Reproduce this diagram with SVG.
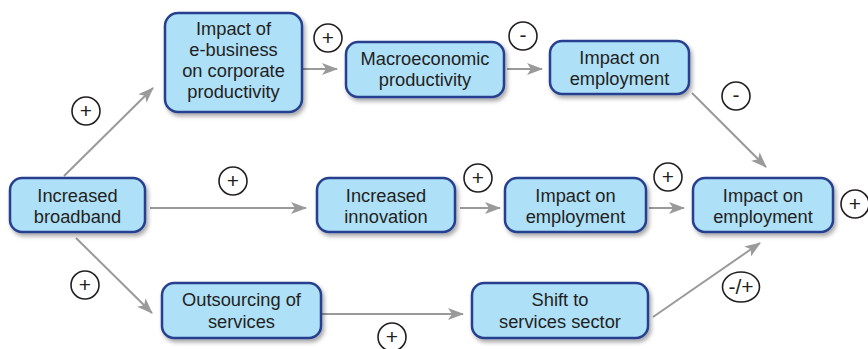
<svg xmlns="http://www.w3.org/2000/svg" width="868" height="349" viewBox="0 0 868 349">
<defs>
<filter id="sh" x="-10%" y="-10%" width="130%" height="140%">
<feDropShadow dx="2" dy="3" stdDeviation="2" flood-color="#000" flood-opacity="0.35"/>
</filter>
<marker id="ah" markerUnits="userSpaceOnUse" markerWidth="16" markerHeight="12" viewBox="0 0 16 12" refX="15" refY="6" orient="auto">
<path d="M0,0 L16,6 L0,12 L4,6 Z" fill="#9a9a9a"/>
</marker>
<style>
.n rect{fill:#aee0f8;stroke:#25408f;stroke-width:2.5;filter:url(#sh)}
.n text{font-family:"Liberation Sans",Arial,sans-serif;font-size:18.3px;fill:#231f20;text-anchor:middle}
.c line{stroke:#9a9a9a;stroke-width:2;marker-end:url(#ah)}
.l circle,.l ellipse{fill:#fff;stroke:#231f20;stroke-width:1.6}
.l text{font-family:"Liberation Sans",Arial,sans-serif;font-size:21px;fill:#231f20;text-anchor:middle}
</style>
</defs>
<rect width="868" height="349" fill="#fff"/>
<g id="connectors" class="c">
<line x1="64" y1="176" x2="153" y2="88"/>
<line x1="303" y1="69" x2="337" y2="69"/>
<line x1="507" y1="69" x2="542" y2="69"/>
<line x1="692" y1="93" x2="766" y2="167"/>
<line x1="150" y1="208" x2="306" y2="208"/>
<line x1="460" y1="208" x2="500" y2="208"/>
<line x1="649" y1="208" x2="684" y2="208"/>
<line x1="76" y1="238" x2="152" y2="313"/>
<line x1="322" y1="314" x2="463" y2="314"/>
<line x1="653" y1="317" x2="760" y2="243"/>
</g>
<g id="n-broadband" class="n"><rect x="10" y="178" width="135" height="54" rx="12"/><text x="77.5" y="202">Increased</text><text x="77.5" y="223">broadband</text></g>
<g id="n-ebusiness" class="n"><rect x="165" y="13" width="137" height="99" rx="13"/><text x="233.5" y="35">Impact of</text><text x="233.5" y="56">e-business</text><text x="233.5" y="77">on corporate</text><text x="233.5" y="98">productivity</text></g>
<g id="n-macro" class="n"><rect x="346" y="42" width="158" height="55" rx="12"/><text x="425" y="65">Macroeconomic</text><text x="425" y="86">productivity</text></g>
<g id="n-emp-top" class="n"><rect x="550" y="41" width="139" height="53" rx="12"/><text x="619.5" y="64">Impact on</text><text x="619.5" y="85">employment</text></g>
<g id="n-innovation" class="n"><rect x="317" y="178" width="138" height="54" rx="12"/><text x="386" y="202">Increased</text><text x="386" y="223">innovation</text></g>
<g id="n-emp-mid" class="n"><rect x="505" y="178" width="141" height="54" rx="12"/><text x="575.5" y="202">Impact on</text><text x="575.5" y="223">employment</text></g>
<g id="n-emp-right" class="n"><rect x="693" y="178" width="140" height="54" rx="12"/><text x="763" y="202">Impact on</text><text x="763" y="223">employment</text></g>
<g id="n-outsourcing" class="n"><rect x="162" y="283" width="159" height="55" rx="12"/><text x="241.5" y="306">Outsourcing of</text><text x="241.5" y="328">services</text></g>
<g id="n-shift" class="n"><rect x="472" y="283" width="176" height="55" rx="12"/><text x="560" y="306">Shift to</text><text x="560" y="328">services sector</text></g>
<g id="labels" class="l">
<g><circle cx="86" cy="111" r="14"/><text x="86" y="118">+</text></g>
<g><circle cx="328" cy="38" r="14"/><text x="328" y="45">+</text></g>
<g><circle cx="523" cy="36" r="14"/><text x="523" y="42">-</text></g>
<g><circle cx="736" cy="96" r="14"/><text x="736" y="102">-</text></g>
<g><circle cx="233" cy="181" r="14"/><text x="233" y="188">+</text></g>
<g><circle cx="478" cy="178" r="14"/><text x="478" y="185">+</text></g>
<g><circle cx="668" cy="177" r="14"/><text x="668" y="184">+</text></g>
<g><circle cx="855" cy="204" r="14"/><text x="855" y="211">+</text></g>
<g><circle cx="85" cy="285" r="14"/><text x="85" y="292">+</text></g>
<g><circle cx="392" cy="337" r="14"/><text x="392" y="344">+</text></g>
<g><ellipse cx="741" cy="287" rx="18.5" ry="15"/><text x="741" y="294">-/+</text></g>
</g>
</svg>
